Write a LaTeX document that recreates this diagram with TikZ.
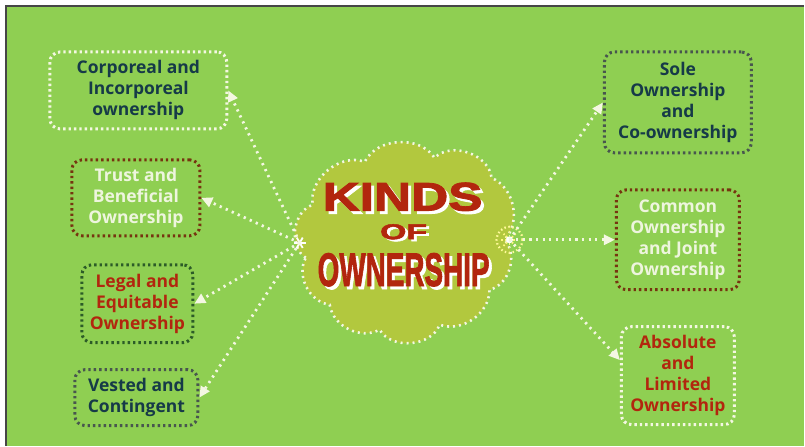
\documentclass[tikz,border=0pt]{standalone}
\usepackage{fontspec}
\setmainfont{Open Sans}
\newfontfamily\titlefont[BoldFeatures={FakeBold=2}]{Liberation Sans}
\usetikzlibrary{arrows.meta}

\definecolor{bggreen}{RGB}{143,207,82}
\definecolor{cloudfill}{RGB}{178,200,62}
\definecolor{navy}{RGB}{22,58,72}
\definecolor{rust}{RGB}{178,38,14}
\definecolor{pale}{RGB}{238,245,222}
\definecolor{dotwhite}{RGB}{244,247,226}
\definecolor{dotbrown}{RGB}{118,52,16}
\definecolor{dotgreen}{RGB}{44,92,40}
\definecolor{dotgray}{RGB}{72,86,78}
\definecolor{frame}{RGB}{70,70,70}

\tikzset{
  kindbox/.style={draw=#1, rounded corners=10pt, line width=3pt,
    dash pattern=on 2.4pt off 3pt, align=center, inner sep=0pt,
    font=\bfseries\fontsize{17.5}{21}\selectfont},
  link/.style={dotwhite, line width=2.8pt, dash pattern=on 2.2pt off 4.4pt,
    -{Triangle[length=11pt,width=10pt,fill=dotwhite]}},
  titletxt/.style={inner sep=0pt, text=rust},
  shadowtxt/.style={inner sep=0pt, text=white}
}

\begin{document}
\begin{tikzpicture}[x=1pt,y=-1pt]

% background and frame
\fill[white] (0,0) rectangle (805,446);
\fill[bggreen] (6,6) rectangle (805,446);
\draw[frame, line width=1.5pt] (6,446) -- (6,6) -- (805,6);
\useasboundingbox (0,0) rectangle (805,446);

% centre cloud
\draw[fill=cloudfill, draw=dotwhite, line width=2.6pt, dash pattern=on 2pt off 4pt]
  (306,258) to[bend left=65] (313,205) to[bend left=60] (365,162)
  to[bend left=60] (435,158) to[bend left=65] (492,178)
  to[bend left=55] (505,240) to[bend left=60] (490,290)
  to[bend left=55] (440,325) to[bend left=65] (380,330)
  to[bend left=55] (330,305) to[bend left=55] cycle;

% title with shadow
\node[shadowtxt] at (406,200) {\titlefont\bfseries\resizebox{160pt}{28pt}{KINDS}};
\node[titletxt] (kinds) at (403,197) {\titlefont\bfseries\resizebox{160pt}{28pt}{KINDS}};
\node[shadowtxt] at (407,234) {\titlefont\bfseries\resizebox{47pt}{15pt}{OF}};
\node[titletxt] (of) at (404,232) {\titlefont\bfseries\resizebox{47pt}{15pt}{OF}};
\node[shadowtxt] at (407,273) {\titlefont\bfseries\resizebox{172pt}{33pt}{OWNERSHIP}};
\node[titletxt] (owner) at (404,270) {\titlefont\bfseries\resizebox{172pt}{33pt}{OWNERSHIP}};

% hubs
\coordinate (hubL) at (300,243);
\coordinate (hubR) at (510,240);
\draw[yellow!40!white, line width=2.2pt, dash pattern=on 1.5pt off 2.5pt] (hubR) circle (13pt);
\foreach \a in {0,45,...,315}
  \draw[yellow!50!white, line width=1.8pt, dash pattern=on 1.5pt off 2pt] (hubR) -- ++(\a:10pt);
\fill[white] (hubR) circle (3.5pt);
\foreach \a in {0,60,...,300}
  \draw[white, line width=1.8pt] (hubL) -- ++(\a:6pt);

% left boxes
\node[kindbox=dotwhite, minimum width=177pt, minimum height=77pt, text=navy]
  (corp) at (138.5,90.5) {Corporeal and\\Incorporeal\\ownership};
\node[kindbox=dotbrown, minimum width=128pt, minimum height=76pt, text=pale]
  (trust) at (136,198) {Trust and\\Beneficial\\Ownership};
\node[kindbox=dotgreen, minimum width=111pt, minimum height=78pt, text=rust]
  (legal) at (137.5,304) {Legal and\\Equitable\\Ownership};
\node[kindbox=dotgray, minimum width=123pt, minimum height=56pt, text=navy]
  (vested) at (136.5,398) {Vested and\\Contingent};

% right boxes
\node[kindbox=dotgray, minimum width=147pt, minimum height=101pt, text=navy]
  (sole) at (678.5,102.5) {Sole\\Ownership\\and\\Co-ownership};
\node[kindbox=dotbrown, minimum width=123pt, minimum height=100pt, text=pale]
  (common) at (678.5,240) {Common\\Ownership\\and Joint\\Ownership};
\node[kindbox=dotwhite, minimum width=113pt, minimum height=98pt, text=rust]
  (absolute) at (678.5,376) {Absolute\\and\\Limited\\Ownership};

% connectors
\draw[link] (hubL) -- (corp.east);
\draw[link] (hubL) -- (trust.east);
\draw[link] (hubL) -- (legal.east);
\draw[link] (hubL) -- (vested.east);
\draw[link] (hubR) -- (sole.west);
\draw[link] (hubR) -- (common.west);
\draw[link] (hubR) -- (absolute.165);

\end{tikzpicture}
\end{document}
